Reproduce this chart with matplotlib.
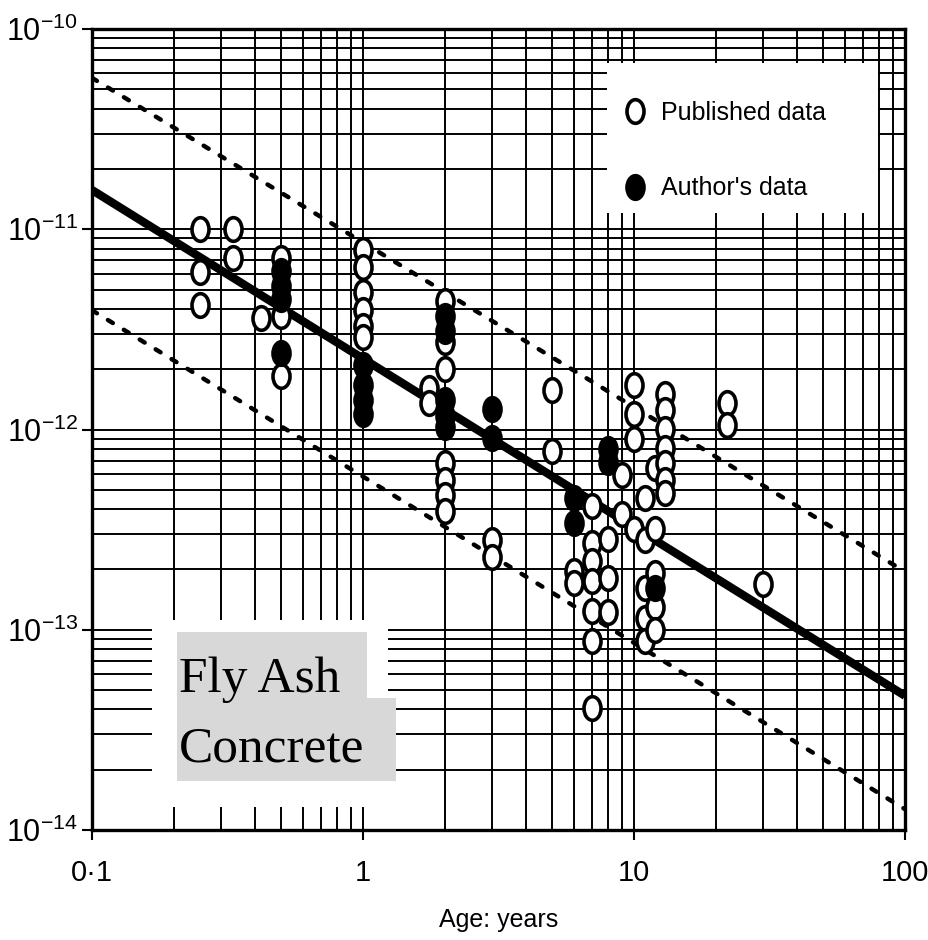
import matplotlib
matplotlib.use("Agg")
import matplotlib.pyplot as plt
from matplotlib.path import Path
from matplotlib.patches import Rectangle
from matplotlib.lines import Line2D
from matplotlib.ticker import NullFormatter

# published data (open circles): age in years, diffusion coefficient
pub_age = [0.25, 0.25, 0.25,
           0.33, 0.33,
           0.42,
           0.5, 0.5, 0.5,
           1, 1, 1, 1, 1, 1,
           1.75, 1.75,
           2, 2, 2, 2, 2, 2, 2,
           3, 3,
           5, 5,
           6, 6,
           7, 7, 7, 7, 7, 7, 7,
           8, 8, 8,
           9, 9,
           10, 10, 10, 10,
           11, 11, 11, 11, 11,
           12, 12, 12, 12, 12,
           13, 13, 13, 13, 13, 13, 13,
           22, 22,
           30]
pub_d = [1.0e-11, 6.1e-12, 4.2e-12,
         1.0e-11, 7.2e-12,
         3.6e-12,
         7.2e-12, 3.7e-12, 1.86e-12,
         7.85e-12, 6.45e-12, 4.84e-12, 3.94e-12, 3.3e-12, 2.9e-12,
         1.62e-12, 1.36e-12,
         4.4e-12, 2.75e-12, 2.0e-12, 6.8e-13, 5.6e-13, 4.7e-13, 3.9e-13,
         2.8e-13, 2.3e-13,
         1.57e-12, 7.85e-13,
         1.97e-13, 1.72e-13,
         4.17e-13, 2.72e-13, 2.2e-13, 1.76e-13, 1.24e-13, 8.8e-14, 4.07e-14,
         2.85e-13, 1.82e-13, 1.22e-13,
         5.9e-13, 3.8e-13,
         1.66e-12, 1.2e-12, 9.0e-13, 3.2e-13,
         4.57e-13, 2.8e-13, 1.62e-13, 1.15e-13, 8.8e-14,
         6.4e-13, 3.2e-13, 1.93e-13, 1.3e-13, 1.0e-13,
         1.51e-12, 1.25e-12, 1.01e-12, 8.1e-13, 6.8e-13, 5.6e-13, 4.8e-13,
         1.35e-12, 1.05e-12,
         1.7e-13]

# author's data (filled circles)
auth_age = [0.5, 0.5, 0.5, 0.5,
            1, 1, 1, 1,
            2, 2, 2, 2, 2,
            3, 3,
            6, 6,
            8, 8,
            12]
auth_d = [6.2e-12, 5.2e-12, 4.5e-12, 2.4e-12,
          2.09e-12, 1.66e-12, 1.4e-12, 1.2e-12,
          3.7e-12, 3.1e-12, 1.4e-12, 1.17e-12, 1.03e-12,
          1.27e-12, 9.1e-13,
          4.57e-13, 3.4e-13,
          8.0e-13, 6.9e-13,
          1.62e-13]

# trend line and its bounds
fit_age = [0.1, 100]
fit_mid = [1.57e-11, 4.68e-14]
fit_upper = [5.7e-11, 1.95e-13]
fit_lower = [3.94e-12, 1.27e-14]

xtick_vals = [0.1, 1, 10, 100]
xtick_text = ["0·1", "1", "10", "100"]
ytick_vals = [1e-14, 1e-13, 1e-12, 1e-11, 1e-10]

plt.rcParams['font.family'] = ['Liberation Sans', 'DejaVu Sans']
plt.rcParams['mathtext.fontset'] = 'custom'
plt.rcParams['mathtext.rm'] = 'Liberation Sans'
plt.rcParams['mathtext.it'] = 'Liberation Sans:italic'
plt.rcParams['mathtext.bf'] = 'Liberation Sans:bold'

# oval marker (the scanned circles are taller than wide)
circ = Path.unit_circle()
oval = Path(circ.vertices * [0.72, 1.0], circ.codes)

fig = plt.figure(figsize=(9.29, 9.40), dpi=100)
ax = fig.add_axes([92 / 929, 1 - 830 / 940, 813 / 929, 801 / 940])
ax.set_xscale('log')
ax.set_yscale('log')
ax.set_xlim(0.1, 100)
ax.set_ylim(1e-14, 1e-10)

ax.set_axisbelow(True)
ax.grid(True, which='both', color='black', lw=1.4)
for s in ax.spines.values():
    s.set_linewidth(2.4)

ax.set_xticks(xtick_vals, xtick_text)
ax.set_yticks(ytick_vals)
ax.xaxis.set_minor_formatter(NullFormatter())
ax.yaxis.set_minor_formatter(NullFormatter())
ax.tick_params(which='major', direction='out', length=7, width=1.5)
ax.tick_params(axis='y', which='major', labelsize=22, pad=3)
ax.tick_params(axis='x', which='major', labelsize=21, pad=14)
ax.tick_params(which='minor', length=0)
ax.set_xlabel("Age: years", fontsize=18, labelpad=15)

# white patches where the grid was blanked out
ax.add_patch(Rectangle((607, 940 - 213), 271, 150, transform=None,
                       facecolor='white', edgecolor='none', zorder=1))
ax.add_patch(Rectangle((152, 940 - 807), 236, 187, transform=None,
                       facecolor='white', edgecolor='none', zorder=1))
# grey label boxes
ax.add_patch(Rectangle((177, 940 - 700), 190, 68, transform=None,
                       facecolor='#d8d8d8', edgecolor='none', zorder=1.1))
ax.add_patch(Rectangle((177, 940 - 781), 219, 83, transform=None,
                       facecolor='#d8d8d8', edgecolor='none', zorder=1.1))
fig.text(179 / 929, 1 - 692 / 940, "Fly Ash", family='Liberation Serif',
         fontsize=37, va='baseline', ha='left')
fig.text(179 / 929, 1 - 762 / 940, "Concrete", family='Liberation Serif',
         fontsize=37, va='baseline', ha='left')

ax.plot(fit_age, fit_mid, color='black', lw=6, solid_capstyle='butt', zorder=2)
for band in (fit_upper, fit_lower):
    ax.plot(fit_age, band, color='black', lw=3.2, dashes=(1.3, 2.9),
            dash_capstyle='round', zorder=2)

mk = dict(ls='none', marker=oval, ms=17, mew=2.6, mec='black')
ax.plot(pub_age, pub_d, mfc='white', zorder=3, **mk)
ax.plot(auth_age, auth_d, mfc='black', zorder=4, **mk)

handles = [Line2D([], [], mfc='white', **mk),
           Line2D([], [], mfc='black', **mk)]
ax.legend(handles, ["Published data", "Author's data"], loc='upper left',
          bbox_to_anchor=((622 - 92) / 813, 1 - (101 - 29) / 801), frameon=False,
          fontsize=18, handlelength=1.0, handletextpad=0.55, labelspacing=2.05,
          borderpad=0, borderaxespad=0)

fig.savefig("out.png", dpi=100)
